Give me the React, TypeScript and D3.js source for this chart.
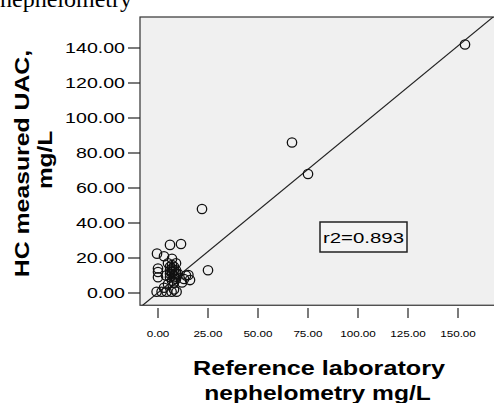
import React from 'react';
import * as d3 from 'd3';

// reference laboratory (x) vs HC measured UAC (y), mg/L
const refValues = [
  153.5, 67, 75, 22, 25,
  6, 11.5, -0.5, 3, 7,
  0, 0, 0,
  5, 7, 8, 6, 9, 7, 8, 6, 9, 7, 8, 5, 10, 4, 6, 9,
  7, 8, 6, 8, 7, 9,
  13, 14, 15.2, 16, 12,
  -0.7, 1.8, 4.3, 6.8, 9.3, 3, 8,
];
const hcValues = [
  142, 86, 68, 48, 13,
  27.5, 28, 22.5, 21, 19.5,
  14, 12, 9,
  17, 16, 15, 13, 13, 11, 10, 9, 8, 7, 6, 5, 11, 10, 15, 17,
  12, 13, 11, 9, 14, 11,
  8, 10, 10.3, 7.4, 6,
  0.7, 0.7, 0.7, 0.7, 0.7, 3, 2,
];
const xTicks = [0, 25, 50, 75, 100, 125, 150];
const yTicks = [0, 20, 40, 60, 80, 100, 120, 140];
const fitIntercept = 0.2;
const fitSlope = 0.94;
const r2Label = 'r2=0.893';

const W = 494;
const H = 403;
const left = 140, top = 17, bottom = 305.25, right = 500;

const x = d3.scaleLinear().domain([-9, 168]).range([left, 494]);
const y = d3.scaleLinear().domain([-7, 158]).range([bottom, 16.5]);
const fmt = d3.format('.2f');
const sans = '"Liberation Sans", Arial, sans-serif';

function SText(props: any) {
  const { x, y, sx = 1, rotate = 0, anchor = 'middle', size, weight = 'normal', children } = props;
  return (
    <text
      transform={`translate(${x},${y}) rotate(${rotate}) scale(${sx},1)`}
      textAnchor={anchor}
      fontSize={size}
      fontWeight={weight}
      fontFamily={sans}
      fill="#000"
    >
      {children}
    </text>
  );
}

export default function App() {
  const pts = refValues.map((v, i) => [v, hcValues[i]]);
  const line = d3.line<number>().x(d => x(d)).y(d => y(fitIntercept + fitSlope * d));

  return (
    <svg width={W} height={H} style={{ position: 'absolute', left: 0, top: 0, background: '#fff' }}>
      <defs>
        <clipPath id="plot">
          <rect x={left} y={top} width={right - left} height={bottom - top} />
        </clipPath>
      </defs>

      <text x={0} y={7} fontFamily='"Liberation Serif", "Times New Roman", serif' fontSize={24}>
        nephelometry
      </text>

      <rect x={left} y={top} width={right - left} height={bottom - top} fill="#f0f0f0" stroke="#333" strokeWidth={1.2} />

      <g clipPath="url(#plot)">
        <path d={line([-9, 168]) || ''} fill="none" stroke="#222" strokeWidth={1.2} />
        {pts.map((p, i) => (
          <circle key={i} cx={x(p[0])} cy={y(p[1])} r={4.7} fill="none" stroke="#111" strokeWidth={1.3} />
        ))}
      </g>

      {yTicks.map(t => (
        <g key={t}>
          <line x1={128} x2={left} y1={y(t)} y2={y(t)} stroke="#222" strokeWidth={1.2} />
          <SText x={125} y={y(t) + 5} sx={1.4} anchor="end" size={14}>{fmt(t)}</SText>
        </g>
      ))}

      {xTicks.map(t => (
        <g key={t}>
          <line x1={x(t)} x2={x(t)} y1={308} y2={318} stroke="#222" strokeWidth={1.2} />
          <SText x={x(t)} y={336.5} sx={1.3} size={9}>{fmt(t)}</SText>
        </g>
      ))}

      <rect x={320} y={222} width={87} height={30} fill="#f4f4f4" stroke="#222" strokeWidth={1.5} />
      <SText x={323} y={243} sx={1.36} anchor="start" size={15}>{r2Label}</SText>

      <SText x={28.5} y={163.5} rotate={-90} sx={1.24} size={20} weight="bold">HC measured UAC,</SText>
      <SText x={52} y={160} rotate={-90} sx={1.22} size={20} weight="bold">mg/L</SText>

      <SText x={319} y={375} sx={1.2} size={21} weight="bold">Reference laboratory</SText>
      <SText x={317.5} y={400} sx={1.17} size={21} weight="bold">nephelometry mg/L</SText>
    </svg>
  );
}
